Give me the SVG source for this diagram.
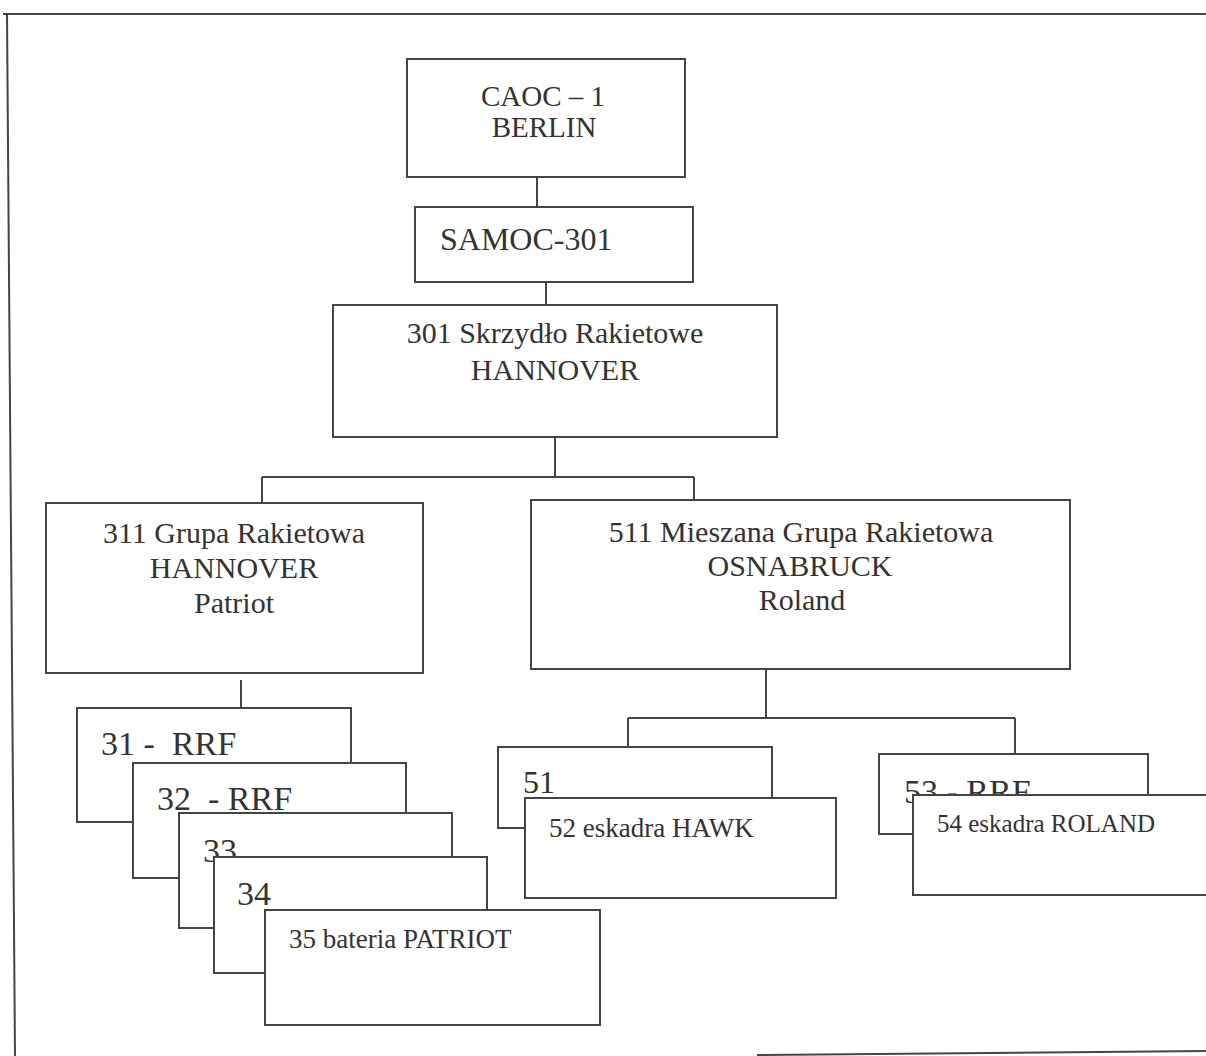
<svg xmlns="http://www.w3.org/2000/svg" width="1206" height="1056" viewBox="0 0 1206 1056">
<style>
  .box { fill: #ffffff; stroke: #444444; stroke-width: 2; }
  .ln { fill: none; stroke: #444444; stroke-width: 2; }
  text { font-family: "Liberation Serif", "Times New Roman", serif; fill: #333333; }
  .c { text-anchor: middle; font-size: 30px; }
  .big { font-size: 34px; }
  .sm { font-size: 27px; }
</style>
<rect width="1206" height="1056" fill="#ffffff"/>
<g id="frame">
  <path class="ln" d="M3,14 H1206"/>
  <path class="ln" d="M7,14 L15,1056"/>
  <path class="ln" d="M757,1055 L1206,1051"/>
</g>
<g id="connectors">
  <path class="ln" d="M537,177 V207"/>
  <path class="ln" d="M546,282 V305"/>
  <path class="ln" d="M555,437 V477 M262,477 H694 M262,477 V504 M694,477 V500"/>
  <path class="ln" d="M241,680 V708"/>
  <path class="ln" d="M766,669 V718 M628,718 H1015 M628,718 V747 M1015,718 V754"/>
</g>
<g id="node-caoc">
  <rect class="box" x="407" y="59" width="278" height="118"/>
  <text class="c" x="543" y="106" style="font-size:29px">CAOC – 1</text>
  <text class="c" x="544" y="137" style="font-size:29px">BERLIN</text>
</g>
<g id="node-samoc">
  <rect class="box" x="415" y="207" width="278" height="75"/>
  <text x="440" y="250" style="font-size:32px">SAMOC-301</text>
</g>
<g id="node-301">
  <rect class="box" x="333" y="305" width="444" height="132"/>
  <text class="c" x="555" y="343">301 Skrzydło Rakietowe</text>
  <text class="c" x="555" y="380">HANNOVER</text>
</g>
<g id="node-311">
  <rect class="box" x="46" y="503" width="377" height="170"/>
  <text class="c" x="234" y="543">311 Grupa Rakietowa</text>
  <text class="c" x="234" y="578">HANNOVER</text>
  <text class="c" x="234" y="613">Patriot</text>
</g>
<g id="node-511">
  <rect class="box" x="531" y="500" width="539" height="169"/>
  <text class="c" x="801" y="542">511 Mieszana Grupa Rakietowa</text>
  <text class="c" x="800" y="576">OSNABRUCK</text>
  <text class="c" x="802" y="610">Roland</text>
</g>
<g id="node-31">
  <rect class="box" x="77" y="708" width="274" height="114"/>
  <text class="big" x="101" y="755" xml:space="preserve">31 -  RRF</text>
</g>
<g id="node-32">
  <rect class="box" x="133" y="763" width="273" height="115"/>
  <text class="big" x="157" y="810" xml:space="preserve">32  - RRF</text>
</g>
<g id="node-33">
  <rect class="box" x="179" y="813" width="273" height="115"/>
  <text class="big" x="203" y="862">33</text>
</g>
<g id="node-34">
  <rect class="box" x="214" y="857" width="273" height="116"/>
  <text class="big" x="237" y="905">34</text>
</g>
<g id="node-35">
  <rect class="box" x="265" y="910" width="335" height="115"/>
  <text class="sm" x="289" y="948">35 bateria PATRIOT</text>
</g>
<g id="node-51">
  <rect class="box" x="498" y="747" width="274" height="81"/>
  <text x="523" y="793" style="font-size:32px">51</text>
</g>
<g id="node-52">
  <rect class="box" x="525" y="798" width="311" height="100"/>
  <text class="sm" x="549" y="837">52 eskadra HAWK</text>
</g>
<g id="node-53">
  <rect class="box" x="879" y="754" width="269" height="80"/>
  <text class="big" x="904" y="803">53 - RRF</text>
</g>
<g id="node-54">
  <rect class="box" x="913" y="795" width="300" height="100"/>
  <text x="937" y="832" style="font-size:25px">54 eskadra ROLAND</text>
</g>
</svg>
